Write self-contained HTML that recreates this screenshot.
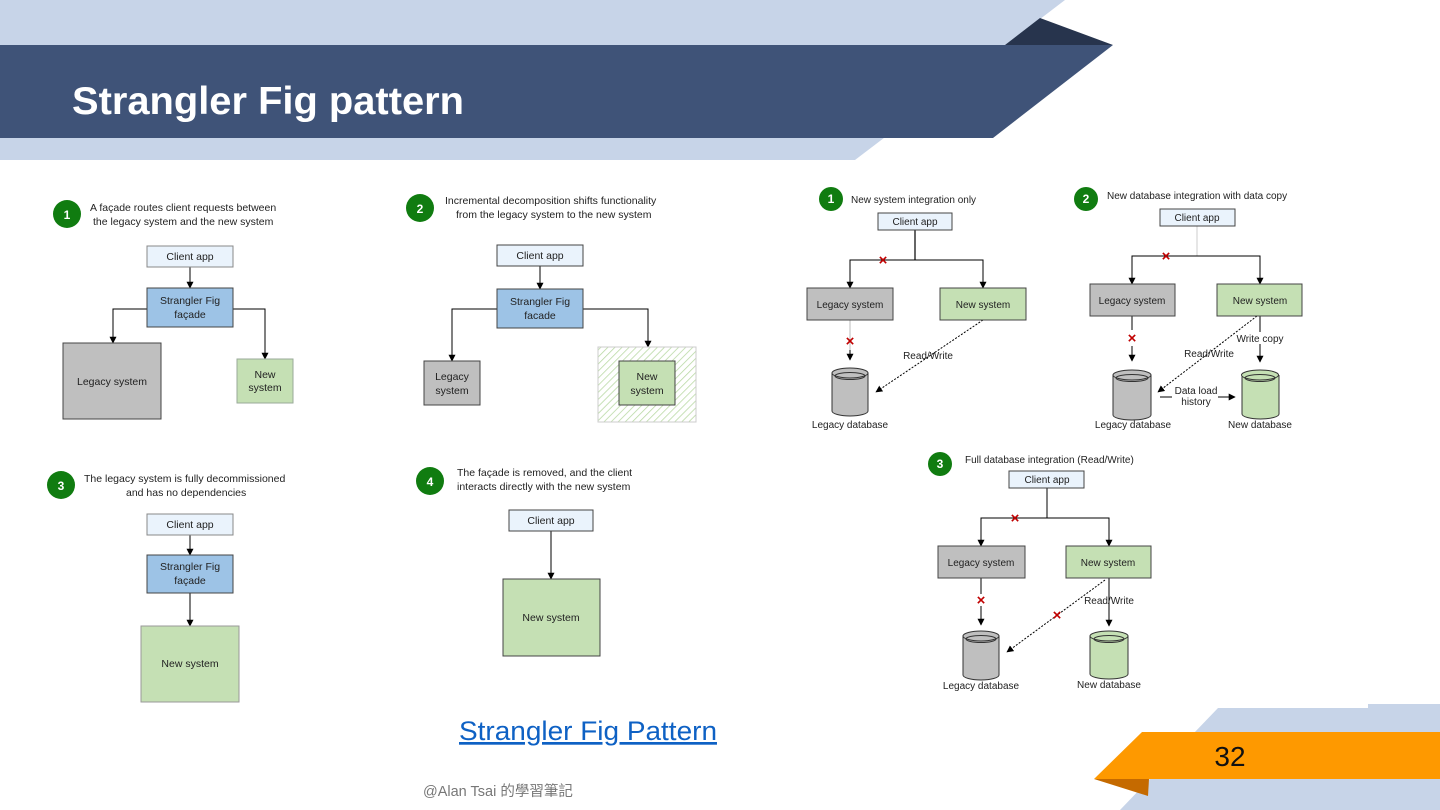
<!DOCTYPE html>
<html><head><meta charset="utf-8"><style>
html,body{margin:0;padding:0;background:#fff;}
svg{display:block;}
text{font-family:"Liberation Sans","Noto Sans CJK TC",sans-serif;}
.s{font-size:10.5px;fill:#222;}
.t{font-size:10px;fill:#222;}
</style></head><body>
<svg width="1440" height="810" viewBox="0 0 1440 810" xmlns="http://www.w3.org/2000/svg">
<defs>
<marker id="a" viewBox="0 0 10 10" refX="9" refY="5" markerWidth="7" markerHeight="7" orient="auto"><path d="M0,0L10,5L0,10z" fill="#000"/></marker>
<pattern id="h" width="5" height="5" patternUnits="userSpaceOnUse" patternTransform="rotate(45)"><rect width="5" height="5" fill="#fff"/><line x1="0" y1="0" x2="0" y2="5" stroke="#b6d7a0" stroke-width="1.5"/></pattern>
</defs>
<polygon points="0,0 1065,0 855,160 0,160" fill="#c7d4e8"/>
<polygon points="1005,45 1040,18 1113,45" fill="#27344d"/>
<polygon points="0,45 1113,45 993,138 0,138" fill="#3f5378"/>
<text x="72" y="114" font-size="39" font-weight="bold" fill="#fff" textLength="392" lengthAdjust="spacingAndGlyphs">Strangler Fig pattern</text>
<polygon points="1218,708 1368,708 1368,704 1440,704 1440,810 1120,810" fill="#c7d4e8"/>
<polygon points="1094,779 1149,779 1148,796" fill="#c56a00"/>
<polygon points="1142,732 1440,732 1440,779 1094,779" fill="#fe9900"/>
<text x="1230" y="766" font-size="28" text-anchor="middle" fill="#111">32</text>
<text x="588" y="740" font-size="27" text-anchor="middle" fill="#0e61c4" text-decoration="underline" textLength="258" lengthAdjust="spacingAndGlyphs">Strangler Fig Pattern</text>
<text x="423" y="796" font-size="14.5" fill="#777">@Alan Tsai 的學習筆記</text>

<g stroke="#000" stroke-width="1" fill="none">
<line x1="190" y1="267" x2="190" y2="288" marker-end="url(#a)"/>
<polyline points="147,309 113,309 113,343" marker-end="url(#a)"/>
<polyline points="233,309 265,309 265,359" marker-end="url(#a)"/>
<line x1="540" y1="266" x2="540" y2="289" marker-end="url(#a)"/>
<polyline points="497,309 452,309 452,361" marker-end="url(#a)"/>
<polyline points="583,309 648,309 648,347" marker-end="url(#a)"/>
<line x1="190" y1="535" x2="190" y2="555" marker-end="url(#a)"/>
<line x1="190" y1="593" x2="190" y2="626" marker-end="url(#a)"/>
<line x1="551" y1="531" x2="551" y2="579" marker-end="url(#a)"/>
<line x1="915" y1="230" x2="915" y2="260" stroke="#666" stroke-width="2"/>
<polyline points="850,287 850,260 983,260 983,287" />
<line x1="850" y1="320" x2="850" y2="360" stroke="#bbb"/>
<line x1="850" y1="350" x2="850" y2="360" marker-end="url(#a)"/>
<line x1="850" y1="266" x2="850" y2="288" marker-end="url(#a)"/>
<line x1="983" y1="266" x2="983" y2="288" marker-end="url(#a)"/>
<line x1="983" y1="320" x2="876" y2="392" stroke-dasharray="2,1.5" marker-end="url(#a)"/>
<line x1="1197" y1="226" x2="1197" y2="256" stroke="#ccc"/>
<polyline points="1132,284 1132,256 1260,256 1260,284" marker-end="url(#a)"/>
<line x1="1132" y1="270" x2="1132" y2="284" marker-end="url(#a)"/>
<line x1="1132" y1="316" x2="1132" y2="330"/>
<line x1="1132" y1="346" x2="1132" y2="361" marker-end="url(#a)"/>
<line x1="1260" y1="316" x2="1260" y2="332"/>
<line x1="1260" y1="344" x2="1260" y2="362" marker-end="url(#a)"/>
<line x1="1257" y1="316" x2="1158" y2="392" stroke-dasharray="2,1.5" marker-end="url(#a)"/>
<line x1="1160" y1="397" x2="1172" y2="397"/>
<line x1="1218" y1="397" x2="1235" y2="397" marker-end="url(#a)"/>
<line x1="1047" y1="488" x2="1047" y2="518"/>
<polyline points="981,546 981,518 1109,518 1109,546" marker-end="url(#a)"/>
<line x1="981" y1="530" x2="981" y2="546" marker-end="url(#a)"/>
<line x1="981" y1="578" x2="981" y2="594"/>
<line x1="981" y1="606" x2="981" y2="625" marker-end="url(#a)"/>
<line x1="1109" y1="578" x2="1109" y2="626" marker-end="url(#a)"/>
<line x1="1105" y1="580" x2="1007" y2="652" stroke-dasharray="2,1.5" marker-end="url(#a)"/>
</g>

<g stroke="#444" stroke-width="1">
<rect x="147" y="246" width="86" height="21" fill="#eaf3fc" stroke="#888"/>
<rect x="147" y="288" width="86" height="39" fill="#9dc3e6"/>
<rect x="63" y="343" width="98" height="76" fill="#bfbfbf"/>
<rect x="237" y="359" width="56" height="44" fill="#c5e0b4" stroke="#9a9"/>
<rect x="497" y="245" width="86" height="21" fill="#eaf3fc"/>
<rect x="497" y="289" width="86" height="39" fill="#9dc3e6"/>
<rect x="424" y="361" width="56" height="44" fill="#bfbfbf"/>
<rect x="598" y="347" width="98" height="75" fill="url(#h)" stroke="#ccc"/>
<rect x="619" y="361" width="56" height="44" fill="#c5e0b4"/>
<rect x="147" y="514" width="86" height="21" fill="#eaf3fc" stroke="#888"/>
<rect x="147" y="555" width="86" height="38" fill="#9dc3e6"/>
<rect x="141" y="626" width="98" height="76" fill="#c5e0b4" stroke="#999"/>
<rect x="509" y="510" width="84" height="21" fill="#eaf3fc"/>
<rect x="503" y="579" width="97" height="77" fill="#c5e0b4"/>
<rect x="878" y="213" width="74" height="17" fill="#eaf3fc"/>
<rect x="807" y="288" width="86" height="32" fill="#bfbfbf"/>
<rect x="940" y="288" width="86" height="32" fill="#c5e0b4"/>
<rect x="1160" y="209" width="75" height="17" fill="#eaf3fc"/>
<rect x="1090" y="284" width="85" height="32" fill="#bfbfbf"/>
<rect x="1217" y="284" width="85" height="32" fill="#c5e0b4"/>
<rect x="1009" y="471" width="75" height="17" fill="#eaf3fc"/>
<rect x="938" y="546" width="87" height="32" fill="#bfbfbf"/>
<rect x="1066" y="546" width="85" height="32" fill="#c5e0b4"/>
</g>
<g stroke="#333" stroke-width="1">
<path d="M832,373 v38 a18,5 0 0 0 36,0 v-38" fill="#bfbfbf"/><ellipse cx="850" cy="373" rx="18" ry="5" fill="#bfbfbf"/><ellipse cx="850" cy="376" rx="15" ry="3.5" fill="none"/>
<path d="M1113,375 v40 a19,5 0 0 0 38,0 v-40" fill="#bfbfbf"/><ellipse cx="1132" cy="375" rx="19" ry="5" fill="#bfbfbf"/><ellipse cx="1132" cy="378" rx="16" ry="3.5" fill="none"/>
<path d="M1242,375 v39 a18.5,5 0 0 0 37,0 v-39" fill="#c5e0b4"/><ellipse cx="1260" cy="375" rx="18.5" ry="5" fill="#c5e0b4"/><ellipse cx="1260" cy="378" rx="15" ry="3.5" fill="none"/>
<path d="M963,636 v39 a18,5 0 0 0 36,0 v-39" fill="#bfbfbf"/><ellipse cx="981" cy="636" rx="18" ry="5" fill="#bfbfbf"/><ellipse cx="981" cy="639" rx="15" ry="3.5" fill="none"/>
<path d="M1090,636 v38 a19,5 0 0 0 38,0 v-38" fill="#c5e0b4"/><ellipse cx="1109" cy="636" rx="19" ry="5" fill="#c5e0b4"/><ellipse cx="1109" cy="639" rx="15" ry="3.5" fill="none"/>
</g>
<g fill="#c00000" font-size="15" font-weight="bold" text-anchor="middle">
<text x="883" y="265">×</text><text x="850" y="346">×</text>
<text x="1166" y="261">×</text><text x="1132" y="343">×</text>
<text x="1015" y="523">×</text><text x="981" y="605">×</text><text x="1057" y="620">×</text>
</g>
<g fill="#107c10">
<circle cx="67" cy="214" r="14"/><circle cx="420" cy="208" r="14"/><circle cx="61" cy="485" r="14"/><circle cx="430" cy="481" r="14"/>
<circle cx="831" cy="199" r="12"/><circle cx="1086" cy="199" r="12"/><circle cx="940" cy="464" r="12"/>
</g>
<g fill="#fff" font-size="12" font-weight="bold" text-anchor="middle">
<text x="67" y="219">1</text><text x="420" y="213">2</text><text x="61" y="490">3</text><text x="430" y="486">4</text>
<text x="831" y="203">1</text><text x="1086" y="203">2</text><text x="940" y="468">3</text>
</g>
<g class="s">
<text x="90" y="211">A façade routes client requests between</text>
<text x="93" y="225">the legacy system and the new system</text>
<text x="445" y="204">Incremental decomposition shifts functionality</text>
<text x="456" y="218">from the legacy system to the new system</text>
<text x="84" y="482">The legacy system is fully decommissioned</text>
<text x="126" y="496">and has no dependencies</text>
<text x="457" y="476">The façade is removed, and the client</text>
<text x="457" y="490">interacts directly with the new system</text>
</g>
<g class="s" text-anchor="middle">
<text x="190" y="260">Client app</text>
<text x="190" y="304">Strangler Fig</text><text x="190" y="318">façade</text>
<text x="112" y="385">Legacy system</text>
<text x="265" y="378">New</text><text x="265" y="391">system</text>
<text x="540" y="259">Client app</text>
<text x="540" y="305">Strangler Fig</text><text x="540" y="319">facade</text>
<text x="452" y="380">Legacy</text><text x="452" y="394">system</text>
<text x="647" y="380">New</text><text x="647" y="394">system</text>
<text x="190" y="528">Client app</text>
<text x="190" y="570">Strangler Fig</text><text x="190" y="584">façade</text>
<text x="190" y="667">New system</text>
<text x="551" y="524">Client app</text>
<text x="551" y="621">New system</text>
</g>
<g class="t">
<text x="851" y="203">New system integration only</text>
<text x="1107" y="199">New database integration with data copy</text>
<text x="965" y="463">Full database integration (Read/Write)</text>
</g>
<g class="t" text-anchor="middle">
<text x="915" y="225">Client app</text>
<text x="850" y="308">Legacy system</text>
<text x="983" y="308">New system</text>
<text x="850" y="428">Legacy database</text>
<text x="928" y="359">Read/Write</text>
<text x="1197" y="221">Client app</text>
<text x="1132" y="304">Legacy system</text>
<text x="1260" y="304">New system</text>
<text x="1260" y="342">Write copy</text>
<text x="1209" y="357">Read/Write</text>
<text x="1196" y="394">Data load</text><text x="1196" y="405">history</text>
<text x="1133" y="428">Legacy database</text>
<text x="1260" y="428">New database</text>
<text x="1047" y="483">Client app</text>
<text x="981" y="566">Legacy system</text>
<text x="1108" y="566">New system</text>
<text x="1109" y="604">Read/Write</text>
<text x="981" y="689">Legacy database</text>
<text x="1109" y="688">New database</text>
</g>
</svg>
</body></html>
